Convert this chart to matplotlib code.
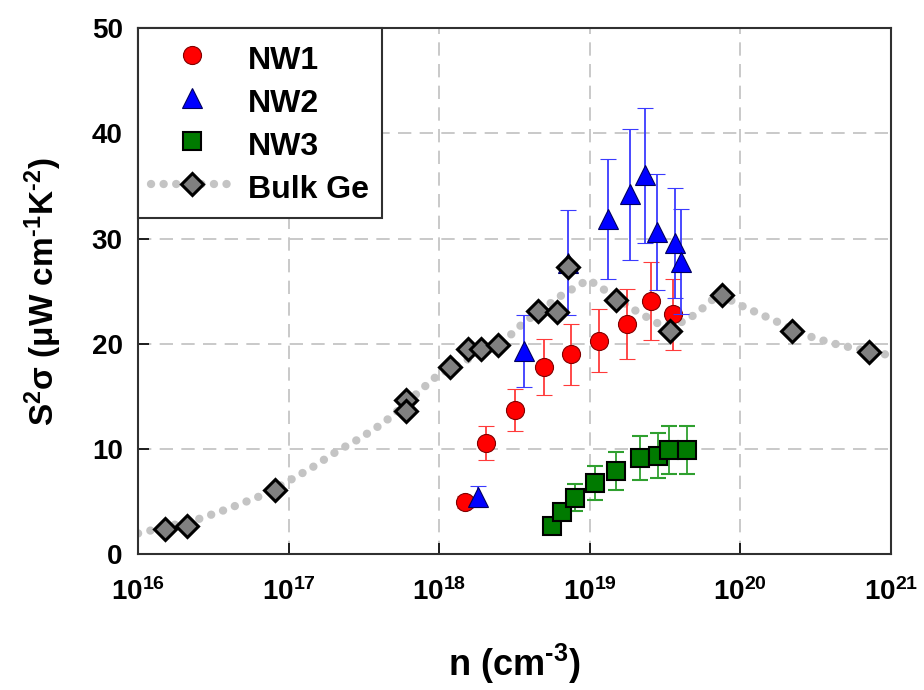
"""
Power factor vs carrier density: Ge nanowires vs bulk Ge.
"""

import matplotlib
matplotlib.use('Agg')
import matplotlib.pyplot as plt
from matplotlib.ticker import LogLocator, LogFormatterMathtext, NullLocator

plt.rcParams['font.family'] = ['Liberation Sans', 'DejaVu Sans']
plt.rcParams['font.weight'] = 'bold'
plt.rcParams['mathtext.fontset'] = 'custom'
plt.rcParams['mathtext.rm'] = 'Liberation Sans:bold'
plt.rcParams['mathtext.it'] = 'Liberation Sans:bold'
plt.rcParams['mathtext.bf'] = 'Liberation Sans:bold'
plt.rcParams['mathtext.sf'] = 'Liberation Sans:bold'
plt.rcParams['axes.unicode_minus'] = False

# NW1 (red circles)
nw1_n = [1.48e18, 2.04e18, 3.2e18, 5.0e18, 7.5e18, 1.15e19, 1.76e19, 2.54e19, 3.55e19]
nw1_pf = [5.0, 10.6, 13.7, 17.8, 19.0, 20.3, 21.9, 24.1, 22.8]
nw1_err = [0.6, 1.6, 2.0, 2.7, 2.9, 3.0, 3.3, 3.7, 3.4]

# NW2 (blue triangles)
nw2_n = [1.82e18, 3.66e18, 7.2e18, 1.33e19, 1.85e19, 2.33e19, 2.8e19, 3.68e19, 4.04e19]
nw2_pf = [5.5, 19.3, 27.7, 31.9, 34.2, 36.0, 30.6, 29.6, 27.8]
nw2_err = [1.0, 3.4, 5.0, 5.7, 6.2, 6.4, 5.5, 5.2, 5.0]

# NW3 (green squares)
nw3_n = [5.58e18, 6.57e18, 7.94e18, 1.09e19, 1.5e19, 2.15e19, 2.85e19, 3.38e19, 4.45e19]
nw3_pf = [2.7, 4.0, 5.4, 6.8, 7.9, 9.2, 9.4, 9.9, 9.9]
nw3_err = [0.0, 0.0, 1.25, 1.6, 1.8, 2.1, 2.15, 2.3, 2.3]

# Bulk Ge (grey diamonds)
bulk_n = [1.5e16, 2.1e16, 8.1e16, 6.0e17, 6.0e17, 1.18e18, 1.55e18, 1.9e18, 2.45e18,
          4.5e18, 6.1e18, 7.2e18, 1.5e19, 3.4e19, 7.5e19, 2.2e20, 7.1e20]
bulk_pf = [2.4, 2.7, 6.1, 14.7, 13.6, 17.8, 19.5, 19.55, 19.9,
           23.15, 23.0, 27.3, 24.2, 21.2, 24.6, 21.2, 19.2]

# Bulk Ge guide curve (dotted)
curve_n = [1.0e16, 1.23e16, 2.57e16, 3.89e16, 6.76e16, 9.77e16, 1.41e17, 2.09e17, 2.95e17,
           4.27e17, 5.25e17, 7.94e17, 9.55e17, 1.58e18, 2.95e18, 3.63e18, 6.31e18, 9.77e18,
           1.17e19, 2.04e19, 2.95e19, 4.17e19, 5.13e19, 7.41e19, 8.91e19, 1.10e20, 1.58e20,
           2.75e20, 3.98e20, 5.62e20, 1.0e21]
curve_pf = [2.0, 2.3, 3.4, 4.3, 5.65, 6.9, 8.2, 9.8, 11.0,
            12.5, 13.6, 15.9, 16.9, 18.6, 20.8, 22.0, 24.5, 26.1,
            25.4, 23.1, 21.8, 22.1, 22.9, 24.9, 24.0, 23.4, 22.4,
            20.8, 20.1, 19.6, 18.9]

# marker styles
nw1_style = dict(marker='o', ms=13, mfc='#ff0000', mec='#800000', mew=0.8)
nw2_style = dict(marker='^', ms=14.5, mfc='#0000ff', mec='#000060', mew=0.8)
nw3_style = dict(marker='s', ms=12.5, mfc='#007a00', mec='#000000', mew=1.5)
bulk_style = dict(marker='D', ms=11.5, mfc='#808080', mec='#000000', mew=2.2)
dot_style = dict(color='#c4c4c4', lw=6, linestyle=(0, (0.01, 1.5)), dash_capstyle='round')

fig = plt.figure(figsize=(9.24, 6.9), dpi=100)
ax = fig.add_axes([0.1494, 0.1964, 0.8149, 0.763])

ax.errorbar(nw1_n, nw1_pf, yerr=nw1_err, linestyle='none', ecolor='#ff3a3a',
            elinewidth=1.3, capsize=6, capthick=1.3, zorder=3, **nw1_style)
ax.errorbar(nw2_n, nw2_pf, yerr=nw2_err, linestyle='none', ecolor='#3a3aff',
            elinewidth=1.3, capsize=6, capthick=1.3, zorder=4, **nw2_style)
ax.errorbar(nw3_n, nw3_pf, yerr=nw3_err, linestyle='none', ecolor='#2fa02f',
            elinewidth=1.3, capsize=6, capthick=1.3, zorder=3, **nw3_style)

ax.plot(curve_n, curve_pf, zorder=2, **dot_style)
ax.plot(bulk_n, bulk_pf, linestyle='none', zorder=5, **bulk_style)

# legend proxies (markers only, no error bars)
h1, = ax.plot([], [], linestyle='none', **nw1_style)
h2, = ax.plot([], [], linestyle='none', **nw2_style)
h3, = ax.plot([], [], linestyle='none', **nw3_style)
h4, = ax.plot([], [], **dot_style, **bulk_style)

ax.set_xscale('log')
ax.set_xlim(1e16, 1e21)
ax.set_ylim(0, 50)
ax.set_yticks([0, 10, 20, 30, 40, 50])
ax.xaxis.set_major_locator(LogLocator(base=10, numticks=10))
ax.xaxis.set_major_formatter(LogFormatterMathtext())
ax.xaxis.set_minor_locator(NullLocator())

ax.grid(True, which='major', color='#c0c0c0', linestyle=(0, (8, 5)), linewidth=1.2)
ax.set_axisbelow(True)

ax.tick_params(axis='both', direction='in', length=8, width=1.2, labelsize=20)
ax.tick_params(axis='x', pad=17)
ax.tick_params(axis='y', pad=11)
for s in ax.spines.values():
    s.set_linewidth(1.5)
    s.set_color('#303030')

ax.set_xlabel('n (cm$^{\u2010 3}$)', fontsize=26, fontweight='bold', labelpad=26)
ax.set_ylabel('S$^{2}$$\\sigma$ ($\\mu$W cm$^{\u2010 1}$K$^{\u2010 2}$)', fontsize=24,
              fontweight='bold', labelpad=20)

leg = ax.legend([h1, h2, h3, h4], ['NW1', 'NW2', 'NW3', 'Bulk Ge'], loc='upper left',
                bbox_to_anchor=(0, 1), borderaxespad=0, fancybox=False, framealpha=1,
                edgecolor='#303030', fontsize=23, handlelength=2.55, handleheight=1.3,
                labelspacing=0.25, borderpad=0.4, handletextpad=0.5)
leg.get_frame().set_linewidth(1.5)
leg.set_zorder(10)

plt.savefig('out.png', dpi=100)
